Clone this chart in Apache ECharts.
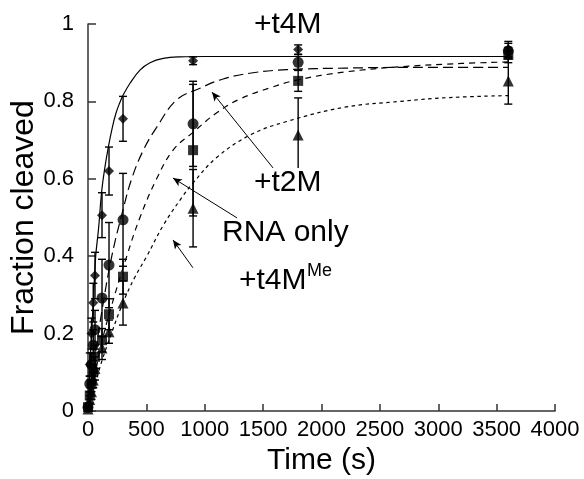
<!DOCTYPE html>
<html>
<head>
<meta charset="utf-8">
<script src="https://cdn.jsdelivr.net/npm/echarts@6/dist/echarts.min.js"></script>
<style>
  html, body { margin: 0; padding: 0; background: #ffffff; }
  #chart { width: 584px; height: 479px; }
</style>
</head>
<body>
<div id="chart"></div>
<script>
// Sampling times (s) of the cleavage assay
const sampleTimes = [0, 15, 30, 45, 60, 120, 180, 300, 900, 1800, 3600];

// Mean fraction cleaved and error for each condition
const t4MValues   = [0.01, 0.12, 0.20, 0.28, 0.35, 0.506, 0.62, 0.755, 0.905, 0.934, 0.935];
const t4MErr      = [0, 0.03, 0.04, 0.05, 0.06, 0.058, 0.062, 0.058, 0.01, 0.012, 0.02];
const t2MValues   = [0.01, 0.07, 0.12, 0.17, 0.21, 0.292, 0.377, 0.494, 0.742, 0.901, 0.93];
const t2MErr      = [0, 0.02, 0.03, 0.04, 0.05, 0.10, 0.11, 0.12, 0.11, 0.02, 0.02];
const rnaValues   = [0.01, 0.04, 0.07, 0.10, 0.14, 0.183, 0.25, 0.347, 0.674, 0.853, 0.92];
const rnaErr      = [0, 0.01, 0.02, 0.02, 0.03, 0.03, 0.04, 0.045, 0.17, 0.027, 0.02];
const t4MMeValues = [0.005, 0.03, 0.05, 0.08, 0.11, 0.163, 0.205, 0.279, 0.524, 0.713, 0.853];
const t4MMeErr    = [0, 0.01, 0.02, 0.02, 0.03, 0.03, 0.03, 0.057, 0.10, 0.096, 0.06];

// Fitted single-exponential curves, read as (time, fraction) pairs
const t4MFitT   = [0, 15, 30, 45, 66, 90, 117, 145, 174, 210, 240, 270, 302, 360, 445, 531, 645, 788, 1000, 1500, 2500, 3600];
const t4MFitV   = [0, 0.11, 0.20, 0.28, 0.40, 0.47, 0.567, 0.63, 0.682, 0.735, 0.77, 0.795, 0.817, 0.847, 0.881, 0.90, 0.911, 0.915, 0.916, 0.916, 0.916, 0.916];
const t2MFitT   = [0, 60, 120, 203, 300, 374, 474, 588, 760, 959, 1157, 1414, 1702, 2200, 2800, 3600];
const t2MFitV   = [0, 0.14, 0.26, 0.399, 0.52, 0.60, 0.674, 0.733, 0.804, 0.834, 0.858, 0.874, 0.882, 0.886, 0.888, 0.888];
const rnaFitT   = [0, 60, 120, 200, 331, 445, 588, 731, 900, 1100, 1300, 1559, 1787, 2200, 2700, 3200, 3600];
const rnaFitV   = [0, 0.095, 0.18, 0.27, 0.399, 0.50, 0.60, 0.675, 0.72, 0.77, 0.806, 0.835, 0.855, 0.876, 0.89, 0.898, 0.902];
const t4MMeFitT = [0, 60, 120, 200, 300, 400, 502, 645, 800, 902, 1102, 1388, 1702, 2200, 2672, 3100, 3600];
const t4MMeFitV = [0, 0.068, 0.13, 0.20, 0.28, 0.345, 0.399, 0.48, 0.55, 0.59, 0.655, 0.713, 0.748, 0.785, 0.80, 0.81, 0.815];

// Axis settings
const xTicks = { min: 0, max: 4000, step: 500 };
const yTicks = { min: 0, max: 1, step: 0.2 };

// Annotation arrows in data units: [fromTime, fromFrac, toTime, toFrac]
const arrowT2M   = [1585, 0.628, 1062, 0.824];
const arrowRNA   = [1276, 0.499, 728, 0.602];
const arrowT4MMe = [899, 0.37, 728, 0.442];

const zip = (xs, ys) => xs.map((x, i) => [x, ys[i]]);
const errRows = (vals, errs) => sampleTimes
  .map((t, i) => [t, vals[i] - errs[i], vals[i] + errs[i], errs[i]])
  .filter(r => r[3] > 0);

function renderErr(params, api) {
  const t = api.value(0);
  const lo = api.coord([t, api.value(1)]);
  const hi = api.coord([t, api.value(2)]);
  const w = 4;
  const style = { stroke: '#000', lineWidth: 1.4 };
  return {
    type: 'group',
    children: [
      { type: 'line', shape: { x1: lo[0], y1: lo[1], x2: hi[0], y2: hi[1] }, style },
      { type: 'line', shape: { x1: hi[0] - w, y1: hi[1], x2: hi[0] + w, y2: hi[1] }, style },
      { type: 'line', shape: { x1: lo[0] - w, y1: lo[1], x2: lo[0] + w, y2: lo[1] }, style }
    ]
  };
}

function errSeries(vals, errs) {
  return {
    type: 'custom', renderItem: renderErr, data: errRows(vals, errs),
    encode: { x: 0, y: [1, 2] }, z: 3, silent: true
  };
}

function fitSeries(ts, vs, dash) {
  return {
    type: 'line', data: zip(ts, vs), smooth: 0.4, showSymbol: false, symbol: 'none',
    lineStyle: { color: '#000', width: 1.2, type: dash }, z: 2, silent: true
  };
}

function pointSeries(vals, symbol, size) {
  return {
    type: 'scatter', data: zip(sampleTimes, vals), symbol, symbolSize: size,
    itemStyle: { color: '#000' }, z: 4, silent: true
  };
}

function arrowLine(a) {
  return {
    type: 'line', data: [], silent: true,
    markLine: {
      silent: true, symbol: ['none', 'arrow'], symbolSize: [6, 9],
      lineStyle: { color: '#000', width: 1, type: 'solid' },
      label: { show: false },
      data: [[{ coord: [a[0], a[1]] }, { coord: [a[2], a[3]] }]]
    }
  };
}

const axisLine = { show: true, lineStyle: { color: '#333', width: 1.5 } };
const labelFont = { fontFamily: 'Liberation Sans, Arial, sans-serif', color: '#000' };

const chart = echarts.init(document.getElementById('chart'), null, { renderer: 'canvas' });
chart.setOption({
  animation: false,
  backgroundColor: '#ffffff',
  grid: { left: 88, right: 29, top: 24, bottom: 68, containLabel: false, outerBoundsMode: 'none' },
  xAxis: {
    type: 'value', min: xTicks.min, max: xTicks.max, interval: xTicks.step,
    axisLine, splitLine: { show: false },
    axisTick: { inside: true, length: 7, lineStyle: { color: '#333', width: 1.5 } },
    axisLabel: { ...labelFont, fontSize: 22, margin: 8, formatter: v => String(v) },
    name: 'Time (s)', nameLocation: 'middle', nameGap: 35, nameMoveOverlap: false,
    nameTextStyle: { ...labelFont, fontSize: 30 }
  },
  yAxis: {
    type: 'value', min: yTicks.min, max: yTicks.max, interval: yTicks.step,
    axisLine, splitLine: { show: false },
    axisTick: { inside: true, length: 8, lineStyle: { color: '#333', width: 1.5 } },
    axisLabel: { ...labelFont, fontSize: 22, margin: 14, formatter: v => String(+v.toFixed(1)) },
    name: 'Fraction cleaved', nameLocation: 'middle', nameGap: 48, nameMoveOverlap: false,
    nameTextStyle: { ...labelFont, fontSize: 32 }
  },
  series: [
    fitSeries(t4MFitT, t4MFitV, 'solid'),
    fitSeries(t2MFitT, t2MFitV, [10, 5]),
    fitSeries(rnaFitT, rnaFitV, [6, 5]),
    fitSeries(t4MMeFitT, t4MMeFitV, [3.5, 3.5]),
    errSeries(t4MValues, t4MErr),
    errSeries(t2MValues, t2MErr),
    errSeries(rnaValues, rnaErr),
    errSeries(t4MMeValues, t4MMeErr),
    pointSeries(t4MValues, 'diamond', 10),
    pointSeries(t2MValues, 'circle', 11),
    pointSeries(rnaValues, 'rect', 10),
    pointSeries(t4MMeValues, 'triangle', 11),
    arrowLine(arrowT2M),
    arrowLine(arrowRNA),
    arrowLine(arrowT4MMe)
  ],
  graphic: [
    { type: 'text', left: 254, top: 10, z: 10,
      style: { text: '+t4M', font: '30px "Liberation Sans", Arial, sans-serif', fill: '#000', backgroundColor: '#fff' } },
    { type: 'text', left: 254, top: 168, z: 10,
      style: { text: '+t2M', font: '30px "Liberation Sans", Arial, sans-serif', fill: '#000', backgroundColor: '#fff' } },
    { type: 'text', left: 222, top: 218, z: 10,
      style: { text: 'RNA only', font: '30px "Liberation Sans", Arial, sans-serif', fill: '#000' } },
    { type: 'text', left: 239, top: 266, z: 10,
      style: { text: '+t4M', font: '30px "Liberation Sans", Arial, sans-serif', fill: '#000' } },
    { type: 'text', left: 307, top: 262, z: 10,
      style: { text: 'Me', font: '18px "Liberation Sans", Arial, sans-serif', fill: '#000' } }
  ]
});
</script>
</body>
</html>
